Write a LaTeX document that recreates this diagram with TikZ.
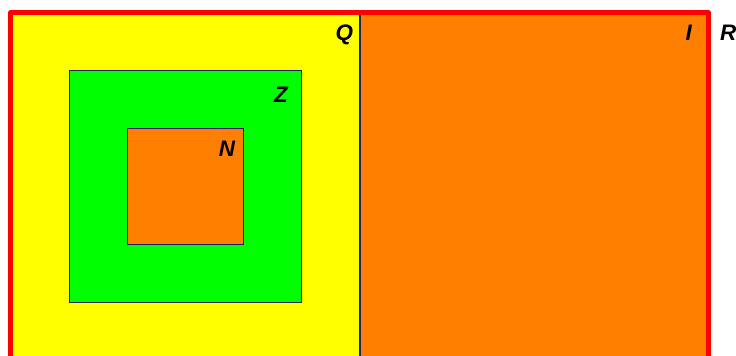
\documentclass[tikz,border=0pt]{standalone}
\usepackage{fontspec}
\setmainfont{Liberation Sans}
\usetikzlibrary{positioning}
\definecolor{zoneyellow}{RGB}{255,255,0}
\definecolor{zoneorange}{RGB}{255,128,0}
\definecolor{zonegreen}{RGB}{0,255,0}
\definecolor{zonered}{RGB}{255,0,0}
\definecolor{navyline}{RGB}{30,30,110}

\begin{document}
\begin{tikzpicture}[
  zone/.style={rectangle,draw=navyline,line width=0.5pt,inner sep=0pt,minimum size=#1},
  tag/.style={font=\fontsize{11}{13}\selectfont\bfseries\itshape,text=black,inner xsep=4pt,inner ysep=6pt},
  frame/.style={draw=zonered,line width=2pt,line join=round}
]
\useasboundingbox (-0.19,0.086) rectangle (12.5,6.224);
\clip (-0.19,0.086) rectangle (12.5,6.224);
\node[zone=6cm,fill=zoneyellow] (Q) at (3,3) {};
\node[zone=6cm,fill=zoneorange,right=0pt of Q] (I) {};
\node[zone=4cm,fill=zonegreen] (Z) at (Q.center) {};
\node[zone=2cm,fill=zoneorange] (N) at (Z.center) {};
\draw[frame] (Q.north west) rectangle (I.south east);
\node[tag,anchor=north east,xshift=1pt] (qtag) at (Q.north east) {Q};
\node[tag,anchor=north east,xshift=-2.5pt,yshift=-2pt] (ztag) at (Z.north east) {Z};
\node[tag,anchor=north east] (ntag) at (N.north east) {N};
\node[tag,anchor=north east,xshift=-4pt] (itag) at (I.north east) {I};
\node[tag,anchor=north west,xshift=1.5pt] (rtag) at (I.north east) {R};
\end{tikzpicture}
\end{document}
